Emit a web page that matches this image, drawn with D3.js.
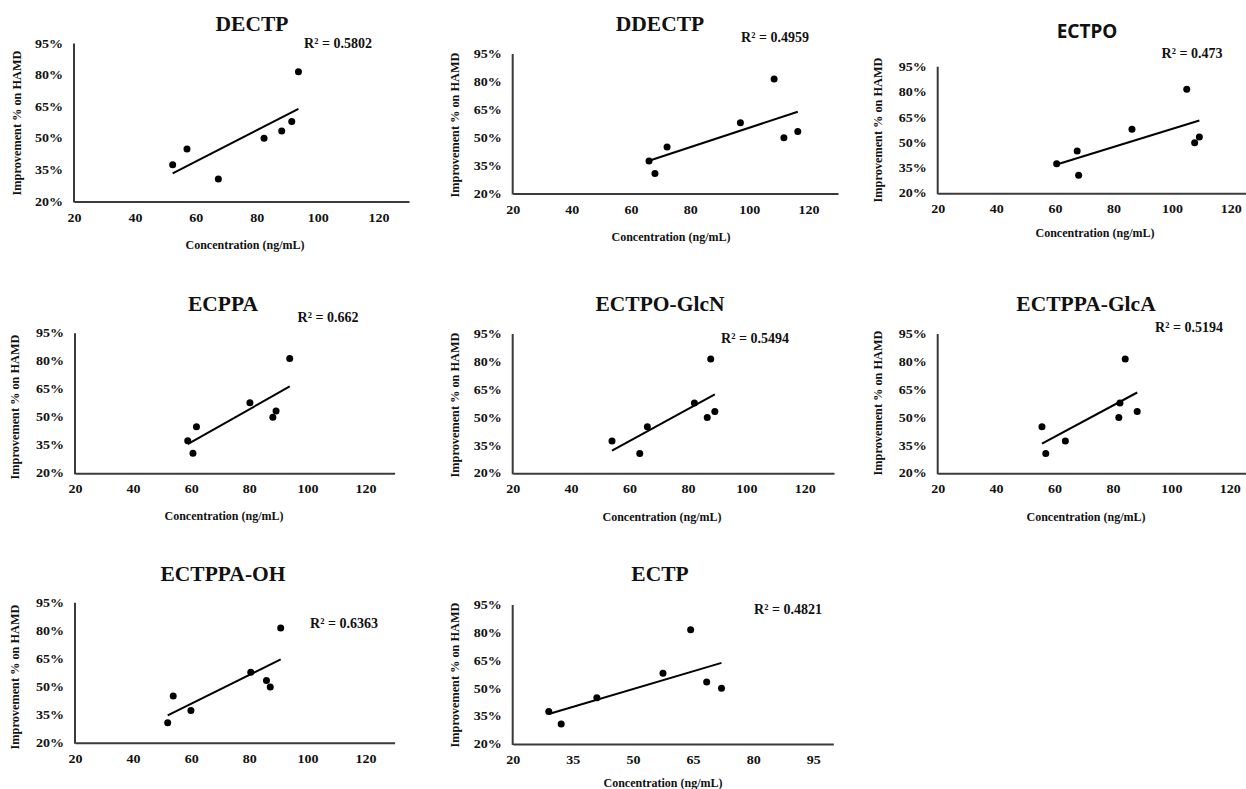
<!DOCTYPE html>
<html lang="en">
<head>
  <meta charset="UTF-8" />
  <title>Concentration vs HAMD improvement</title>
  <script src="https://d3js.org/d3.v7.min.js"></script>
  <style>
    body { margin: 0; background: #fff; }
    svg { display: block; font-family: 'Liberation Serif', 'Times New Roman', serif; font-weight: bold; }
    .domain { stroke: #3a3a3a; stroke-width: 2; }
  </style>
</head>
<body>
  <svg id="chart" width="1246" height="789"></svg>
  <script>
    // values (x = concentration ng/mL, y = improvement %)
    const names = ["DECTP", "DDECTP", "ECTPO", "ECPPA", "ECTPO-GlcN", "ECTPPA-GlcA", "ECTPPA-OH", "ECTP"];
    const r2Labels = ["0.5802", "0.4959", "0.473", "0.662", "0.5494", "0.5194", "0.6363", "0.4821"];

    const concDECTP = [52.4, 57.1, 67.4, 82.4, 88.2, 91.5, 93.7];
    const hamdDECTP = [37.5, 44.9, 30.7, 50.0, 53.5, 58.0, 81.6];
    const concDDECTP = [66.1, 68.1, 72.2, 97.0, 108.4, 111.7, 116.4];
    const hamdDDECTP = [37.5, 30.7, 45.0, 58.0, 81.6, 50.0, 53.3];
    const concECTPO = [60.6, 67.6, 68.1, 86.3, 105.0, 107.7, 109.3];
    const hamdECTPO = [37.5, 45.0, 30.7, 58.0, 81.6, 50.0, 53.4];
    const concECPPA = [58.8, 60.6, 61.8, 80.2, 88.1, 89.2, 93.9];
    const hamdECPPA = [37.4, 30.7, 45.0, 57.8, 50.0, 53.4, 81.5];
    const concGlcN = [54.0, 63.5, 66.1, 82.2, 86.6, 87.8, 89.2];
    const hamdGlcN = [37.4, 30.7, 45.0, 57.8, 50.1, 81.6, 53.3];
    const concGlcA = [55.7, 57.0, 63.7, 82.0, 82.4, 84.2, 88.3];
    const hamdGlcA = [45.0, 30.7, 37.4, 50.1, 57.8, 81.6, 53.3];
    const concOH = [51.9, 53.8, 59.9, 80.5, 85.9, 87.2, 90.8];
    const hamdOH = [30.7, 45.0, 37.3, 57.8, 53.3, 49.9, 81.5];
    const concECTP = [29.0, 32.1, 41.0, 57.5, 64.4, 68.4, 72.1];
    const hamdECTP = [37.6, 30.8, 45.0, 58.2, 81.7, 53.4, 50.1];

    const yTicks = [20, 35, 50, 65, 80, 95];
    const xTicks20 = [20, 40, 60, 80, 100, 120];
    const xTicks15 = [20, 35, 50, 65, 80, 95];

    const xs = [concDECTP, concDDECTP, concECTPO, concECPPA, concGlcN, concGlcA, concOH, concECTP];
    const ys = [hamdDECTP, hamdDDECTP, hamdECTPO, hamdECPPA, hamdGlcN, hamdGlcA, hamdOH, hamdECTP];

    // panel frames (pixels)
    const frames = [
      { x0: 74, x1: 409, top: 43.5, bot: 201.5, xMax: 130, ticks: xTicks20, title: [252, 23], r2: [338, 43], xt: [245, 245], yt: [17, 123] },
      { x0: 512.7, x1: 838, top: 54, bot: 193.5, xMax: 130, ticks: xTicks20, title: [660, 23], r2: [775, 37], xt: [671, 237], yt: [455, 125] },
      { x0: 937.7, x1: 1260, top: 66.7, bot: 193.3, xMax: 130, ticks: xTicks20, title: [1087, 31], r2: [1192, 53], xt: [1095, 233], yt: [878, 130], sans: true },
      { x0: 75, x1: 394.6, top: 333.3, bot: 473.3, xMax: 130, ticks: xTicks20, title: [223, 303], r2: [328, 317], xt: [224, 516], yt: [15, 407] },
      { x0: 512.7, x1: 834, top: 334, bot: 473.3, xMax: 130, ticks: xTicks20, title: [660, 303], r2: [755, 338], xt: [662, 517], yt: [455, 405] },
      { x0: 937.7, x1: 1259, top: 334, bot: 473.3, xMax: 130, ticks: xTicks20, title: [1086, 303], r2: [1189, 327], xt: [1086, 517], yt: [878, 403] },
      { x0: 75, x1: 394.6, top: 602.7, bot: 742.7, xMax: 130, ticks: xTicks20, title: [223, 573], r2: [344, 623], xt: null, yt: [15, 677] },
      { x0: 512.7, x1: 833.3, top: 605, bot: 744, xMax: 100, ticks: xTicks15, title: [660, 573], r2: [788, 609], xt: [663, 783], yt: [455, 675] }
    ];

    const stretch = 1.22; // tick labels in the source are drawn wide

    const svg = d3.select("#chart");

    function fit(xv, yv) {
      const mx = d3.mean(xv), my = d3.mean(yv);
      let sxy = 0, sxx = 0;
      xv.forEach((v, i) => { sxy += (v - mx) * (yv[i] - my); sxx += (v - mx) * (v - mx); });
      const b = sxy / sxx;
      return x => my + b * (x - mx);
    }

    frames.forEach((f, k) => {
      const g = svg.append("g");
      const x = d3.scaleLinear().domain([20, f.xMax]).range([f.x0, f.x1]);
      const y = d3.scaleLinear().domain([20, 95]).range([f.bot, f.top]);

      const yAxis = g.append("g")
        .attr("transform", `translate(${f.x0},0)`)
        .call(d3.axisLeft(y).tickValues(yTicks).tickSize(0).tickPadding(11).tickFormat(d => d + "%"));
      const xAxis = g.append("g")
        .attr("transform", `translate(0,${f.bot})`)
        .call(d3.axisBottom(x).tickValues(f.ticks).tickSize(0).tickPadding(12));
      [yAxis, xAxis].forEach(a => a.selectAll("text")
        .attr("font-family", "'Liberation Serif', serif")
        .attr("font-weight", "bold")
        .attr("font-size", 11.5)
        .attr("fill", "#111")
        .attr("transform", `scale(${stretch},1)`));
      yAxis.selectAll("text").attr("x", -11 / stretch);
      yAxis.select(".domain").attr("d", `M0,${f.bot + 1}V${f.top}`);

      const xv = xs[k], yv = ys[k];
      const line = fit(xv, yv);
      const ext = d3.extent(xv);
      g.append("line")
        .attr("x1", x(ext[0])).attr("y1", y(line(ext[0])))
        .attr("x2", x(ext[1])).attr("y2", y(line(ext[1])))
        .attr("stroke", "#000").attr("stroke-width", 2);

      g.selectAll("circle").data(xv).join("circle")
        .attr("cx", d => x(d))
        .attr("cy", (d, i) => y(yv[i]))
        .attr("r", 3.5)
        .attr("fill", "#000");

      g.append("text")
        .attr("x", f.title[0]).attr("y", f.title[1]).attr("dy", "0.35em")
        .attr("text-anchor", "middle")
        .attr("font-family", f.sans ? "'Noto Sans', sans-serif" : "'Liberation Serif', serif")
        .attr("font-size", f.sans ? 19 : 21.5)
        .attr("fill", "#111")
        .text(names[k]);

      g.append("text")
        .attr("x", f.r2[0]).attr("y", f.r2[1]).attr("dy", "0.35em")
        .attr("text-anchor", "middle")
        .attr("font-size", 14)
        .attr("fill", "#111")
        .text("R\u00b2 = " + r2Labels[k]);

      if (f.xt) {
        g.append("text")
          .attr("x", f.xt[0]).attr("y", f.xt[1]).attr("dy", "0.35em")
          .attr("text-anchor", "middle")
          .attr("font-size", 12)
          .attr("fill", "#111")
          .text("Concentration (ng/mL)");
      }

      g.append("text")
        .attr("transform", `translate(${f.yt[0]},${f.yt[1]}) rotate(-90)`)
        .attr("dy", "0.35em")
        .attr("text-anchor", "middle")
        .attr("font-size", 12.3)
        .attr("fill", "#111")
        .text("Improvement % on HAMD");
    });
  </script>
</body>
</html>
